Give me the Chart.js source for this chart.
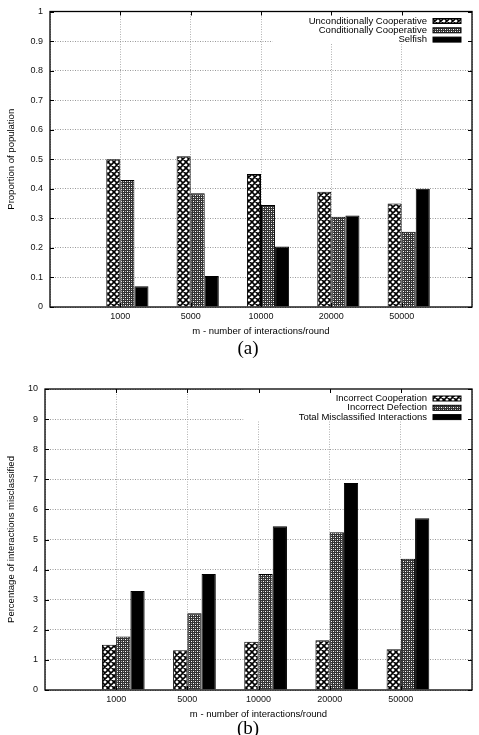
<!DOCTYPE html>
<html>
<head>
<meta charset="utf-8">
<title>Population and misclassification vs interactions per round</title>
<script src="https://cdn.jsdelivr.net/npm/chart.js@4.4.1/dist/chart.umd.min.js"></script>
<style>
  body { margin: 0; background: #fff; }
  canvas { display: block; }
</style>
</head>
<body>
<canvas id="chartA" width="479" height="370"></canvas>
<canvas id="chartB" width="479" height="365"></canvas>
<script>
// categories (m - number of interactions/round)
var rounds = ['1000', '5000', '10000', '20000', '50000'];

// (a) proportion of population
var unconditional = [0.50, 0.51, 0.45, 0.39, 0.35];
var conditional = [0.43, 0.385, 0.345, 0.305, 0.255];
var selfish = [0.07, 0.105, 0.205, 0.31, 0.40];
var yTicksA = [0, 0.1, 0.2, 0.3, 0.4, 0.5, 0.6, 0.7, 0.8, 0.9, 1];

// (b) percentage of interactions misclassified
var incorrectCoop = [1.50, 1.32, 1.60, 1.65, 1.35];
var incorrectDefect = [1.78, 2.55, 3.85, 5.24, 4.36];
var totalMisclassified = [3.29, 3.85, 5.44, 6.88, 5.71];
var yTicksB = [0, 1, 2, 3, 4, 5, 6, 7, 8, 9, 10];

var SANS = "'Liberation Sans', Arial, Helvetica, sans-serif";

function makePattern(kind) {
  var c = document.createElement('canvas');
  var g = c.getContext('2d');
  if (kind === 'cross') {
    c.width = c.height = 6;
    g.fillStyle = '#fff';
    g.fillRect(0, 0, 6, 6);
    g.strokeStyle = '#000';
    g.lineWidth = 1.6;
    g.beginPath();
    [-6, 0, 6].forEach(function (o) {
      g.moveTo(o - 1, -1); g.lineTo(o + 7, 7);
      g.moveTo(o + 7, -1); g.lineTo(o - 1, 7);
    });
    g.stroke();
  } else if (kind === 'dots') {
    c.width = c.height = 4;
    g.fillStyle = '#333';
    g.fillRect(0, 0, 4, 4);
    g.fillStyle = '#fff';
    g.fillRect(1, 1, 1, 1);
    g.fillRect(3, 3, 1, 1);
    g.fillStyle = '#aaa';
    g.fillRect(3, 1, 1, 1);
    g.fillRect(1, 3, 1, 1);
  } else {
    return '#000';
  }
  return g.createPattern(c, 'repeat');
}

var crossFill = makePattern('cross');
var dotFill = makePattern('dots');

function pad(arr) {
  return [null].concat(arr, [null]);
}

// gnuplot-style frame, mirrored ticks, key, titles
var gnuplotLook = {
  id: 'gnuplotLook',
  beforeDatasetsDraw: function (chart, args, o) {
    var a = chart.chartArea, ctx = chart.ctx;
    var maxChars = 0;
    chart.data.datasets.forEach(function (d) { maxChars = Math.max(maxChars, d.label.length); });
    var w = 43 + 5.8 * maxChars;
    ctx.save();
    ctx.fillStyle = '#fff';
    ctx.fillRect(a.right - w, a.top, w, 32);
    ctx.restore();
  },
  afterDraw: function (chart, args, o) {
    var a = chart.chartArea, ctx = chart.ctx;
    var xs = chart.scales.x, ys = chart.scales.y;
    ctx.save();
    ctx.strokeStyle = '#000';
    ctx.lineWidth = 1;
    ctx.beginPath();
    ys.ticks.forEach(function (t) {
      var y = Math.round(ys.getPixelForValue(t.value)) + 0.5;
      ctx.moveTo(a.left, y); ctx.lineTo(a.left + 4, y);
      ctx.moveTo(a.right, y); ctx.lineTo(a.right - 4, y);
    });
    for (var i = 1; i <= rounds.length; i++) {
      var x = Math.round(xs.getPixelForValue(i)) + 0.5;
      ctx.moveTo(x, a.top); ctx.lineTo(x, a.top + 4);
      ctx.moveTo(x, a.bottom); ctx.lineTo(x, a.bottom - 4);
    }
    ctx.stroke();
    ctx.lineWidth = 1.3;
    ctx.strokeRect(a.left, a.top, a.right - a.left, a.bottom - a.top);

    // key
    ctx.font = '9.5px ' + SANS;
    ctx.textAlign = 'right';
    ctx.textBaseline = 'middle';
    var row = 0;
    chart.data.datasets.forEach(function (d) {
      if (!d.label) return;
      var y = a.top + 9.5 + row * 9.3;
      ctx.fillStyle = '#000';
      ctx.fillText(d.label, a.right - 45, y);
      ctx.fillStyle = d.backgroundColor;
      ctx.fillRect(a.right - 39, y - 2.5, 28, 5);
      ctx.lineWidth = 1;
      ctx.strokeRect(a.right - 39, y - 2.5, 28, 5);
      row++;
    });

    // axis titles
    ctx.fillStyle = '#000';
    ctx.textAlign = 'center';
    ctx.fillText(o.xTitle, (a.left + a.right) / 2, a.bottom + 24);
    ctx.save();
    ctx.translate(11.5, (a.top + a.bottom) / 2);
    ctx.rotate(-Math.PI / 2);
    ctx.fillText(o.yTitle, 0, 0);
    ctx.restore();

    // caption
    ctx.font = "19px 'Liberation Serif', 'DejaVu Serif', serif";
    ctx.fillText(o.caption, 248, o.captionY);
    ctx.restore();
  }
};

function buildChart(id, cfg) {
  var canvas = document.getElementById(id);
  var H = canvas.height;
  var datasets = [{ label: '', data: pad(rounds.map(function () { return null; })) }];
  cfg.series.forEach(function (s) {
    datasets.push({ label: s.label, data: pad(s.data), backgroundColor: s.fill });
  });
  return new Chart(canvas, {
    type: 'bar',
    data: { labels: [''].concat(rounds, ['']), datasets: datasets },
    plugins: [gnuplotLook],
    options: {
      responsive: false,
      animation: false,
      devicePixelRatio: 1,
      layout: { padding: { top: cfg.top, right: 479 - cfg.right, left: 0, bottom: 0 } },
      datasets: {
        bar: { categoryPercentage: 0.8, barPercentage: 1, borderWidth: 1, borderColor: '#000' }
      },
      plugins: {
        legend: { display: false },
        tooltip: { enabled: false },
        gnuplotLook: { xTitle: cfg.xTitle, yTitle: cfg.yTitle, caption: cfg.caption, captionY: cfg.captionY }
      },
      scales: {
        x: {
          offset: false,
          grid: { offset: false, color: '#b0b0b0', drawTicks: false },
          border: { display: false, dash: [1, 1.5] },
          ticks: { font: { family: SANS, size: 9, lineHeight: 1 }, color: '#111', padding: 5, maxRotation: 0, autoSkip: false },
          afterFit: function (s) { s.height = H - cfg.bottom; }
        },
        y: {
          min: cfg.yTicks[0],
          max: cfg.yTicks[cfg.yTicks.length - 1],
          grid: { color: '#999', drawTicks: false },
          border: { display: false, dash: [1, 1.5] },
          ticks: { font: { family: SANS, size: 9, lineHeight: 1 }, color: '#111', padding: 7, callback: function (v) { return String(v); } },
          afterBuildTicks: function (s) { s.ticks = cfg.yTicks.map(function (v) { return { value: v }; }); },
          afterFit: function (s) { s.width = cfg.left; }
        }
      }
    }
  });
}

buildChart('chartA', {
  left: 50, top: 5, right: 472, bottom: 307,
  yTicks: yTicksA,
  series: [
    { label: 'Unconditionally Cooperative', data: unconditional, fill: crossFill },
    { label: 'Conditionally Cooperative', data: conditional, fill: dotFill },
    { label: 'Selfish', data: selfish, fill: '#000' }
  ],
  xTitle: 'm - number of interactions/round',
  yTitle: 'Proportion of population',
  caption: '(a)', captionY: 349
});

buildChart('chartB', {
  left: 45, top: 19, right: 472, bottom: 320,
  yTicks: yTicksB,
  series: [
    { label: 'Incorrect Cooperation', data: incorrectCoop, fill: crossFill },
    { label: 'Incorrect Defection', data: incorrectDefect, fill: dotFill },
    { label: 'Total Misclassified Interactions', data: totalMisclassified, fill: '#000' }
  ],
  xTitle: 'm - number of interactions/round',
  yTitle: 'Percentage of interactions misclassified',
  caption: '(b)', captionY: 359
});
</script>
</body>
</html>
